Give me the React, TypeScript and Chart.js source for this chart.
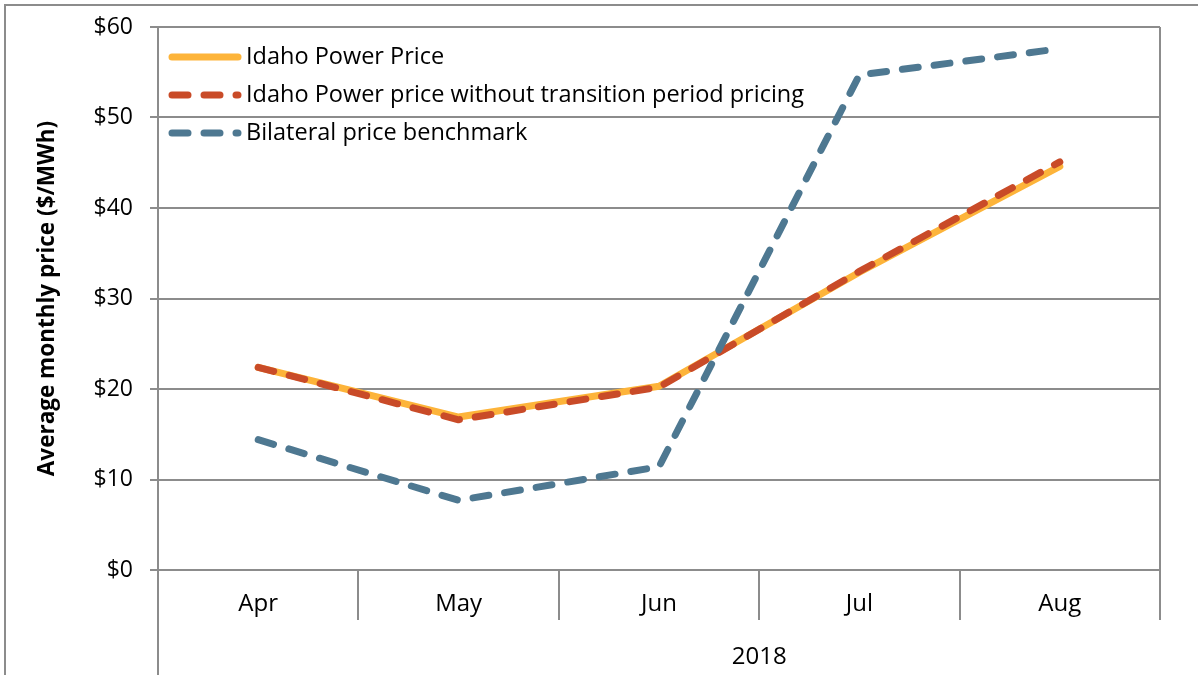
import React, { useEffect, useRef } from "react";
import { Chart, registerables } from "chart.js";

Chart.register(...registerables);

const categories = ["Apr", "May", "Jun", "Jul", "Aug"];
const groupLabel = "2018";
const idahoPowerPrice = [22.4, 16.9, 20.3, 32.9, 44.6];
const idahoWithoutTransition = [22.4, 16.6, 20.2, 33.0, 45.1];
const bilateralBenchmark = [14.4, 7.7, 11.4, 54.7, 57.6];
const seriesNames = [
  "Idaho Power Price",
  "Idaho Power price without transition period pricing",
  "Bilateral price benchmark",
];
const seriesColors = ["#FDB43A", "#C94B28", "#4E7891"];
const yMin = 0;
const yMax = 60;
const yStep = 10;
const yAxisTitle = "Average monthly price ($/MWh)";

const GRID = "#8c8c8c";
const FONT = "'Open Sans', 'Noto Sans', sans-serif";

export default function App() {
  const ref = useRef<HTMLCanvasElement>(null);

  useEffect(() => {
    const canvas = ref.current;
    if (!canvas) return;

    const dashes = [[], [16, 16], [16, 16]];

    const extras = {
      id: "extras",
      afterDraw(chart: any) {
        const { ctx, chartArea: a } = chart;
        ctx.save();
        ctx.strokeStyle = GRID;
        ctx.lineWidth = 2;
        ctx.beginPath();
        ctx.moveTo(a.right, a.top);
        ctx.lineTo(a.right, a.bottom);
        ctx.moveTo(a.left, a.bottom + 50);
        ctx.lineTo(a.left, chart.height);
        ctx.stroke();

        ctx.fillStyle = "#000";
        ctx.font = `24px ${FONT}`;
        ctx.textAlign = "center";
        ctx.textBaseline = "middle";
        ctx.fillText(groupLabel, a.left + (a.right - a.left) * 0.6, 657);

        // legend inside plot area
        const x0 = a.left + 11;
        const x1 = a.left + 83;
        ctx.textAlign = "left";
        ctx.font = `23.5px ${FONT}`;
        seriesNames.forEach((name, i) => {
          const y = a.top + 30 + i * 38;
          ctx.save();
          ctx.strokeStyle = seriesColors[i];
          ctx.lineWidth = 7;
          ctx.lineCap = "round";
          ctx.setLineDash(dashes[i]);
          ctx.beginPath();
          ctx.moveTo(x0 + 3, y);
          ctx.lineTo(x1 - 3, y);
          ctx.stroke();
          ctx.restore();
          ctx.fillStyle = "#000";
          ctx.fillText(name, x1 + 5, y);
        });
        ctx.restore();
      },
    };

    const mk = (i: number, data: number[], order: number) => ({
      label: seriesNames[i],
      data,
      borderColor: seriesColors[i],
      backgroundColor: seriesColors[i],
      borderWidth: 7,
      borderDash: dashes[i],
      borderCapStyle: "round" as const,
      borderJoinStyle: "round" as const,
      pointRadius: 0,
      pointHoverRadius: 0,
      fill: false,
      tension: 0,
      order,
    });

    const chart = new Chart(canvas, {
      type: "line",
      data: {
        labels: categories,
        datasets: [
          mk(0, idahoPowerPrice, 3),
          mk(1, idahoWithoutTransition, 2),
          mk(2, bilateralBenchmark, 1),
        ],
      },
      options: {
        responsive: false,
        animation: false,
        devicePixelRatio: 1,
        layout: { padding: { top: 27, right: 38, left: 0, bottom: 0 } },
        plugins: {
          legend: { display: false },
          tooltip: { enabled: false },
        },
        scales: {
          x: {
            type: "category",
            offset: true,
            grid: {
              offset: true,
              drawOnChartArea: false,
              drawTicks: true,
              tickLength: 50,
              color: GRID,
              lineWidth: 2,
            },
            border: { display: true, color: GRID, width: 2 },
            ticks: {
              padding: -30.4,
              color: "#000",
              font: { size: 24, family: FONT },
              maxRotation: 0,
            },
            afterFit: (s: any) => {
              s.height = 105;
            },
          },
          y: {
            min: yMin,
            max: yMax,
            ticks: {
              stepSize: yStep,
              padding: 17,
              color: "#000",
              font: { size: 23, family: FONT },
              callback: (v: any) => "$" + v,
            },
            grid: { color: GRID, lineWidth: 2, tickLength: 8, drawTicks: true },
            border: { display: true, color: GRID, width: 2 },
            title: {
              display: true,
              text: yAxisTitle,
              color: "#000",
              font: { size: 22.5, family: FONT, weight: "bold" },
              padding: { top: 34.5, bottom: 0 },
            },
            afterFit: (s: any) => {
              s.width = 158;
              s.paddingTop = 0;
              s.paddingBottom = 0;
            },
          },
        },
      },
      plugins: [extras],
    });

    return () => chart.destroy();
  }, []);

  return (
    <div
      style={{
        position: "fixed",
        left: 0,
        top: 0,
        width: 1198,
        height: 675,
        overflow: "hidden",
        background: "#fff",
      }}
    >
      <div
        style={{
          position: "absolute",
          left: 4,
          top: 4,
          width: 1300,
          height: 800,
          border: `2px solid ${GRID}`,
        }}
      />
      <canvas
        ref={ref}
        width={1198}
        height={675}
        style={{ position: "absolute", left: 0, top: 0, display: "block" }}
      />
    </div>
  );
}
